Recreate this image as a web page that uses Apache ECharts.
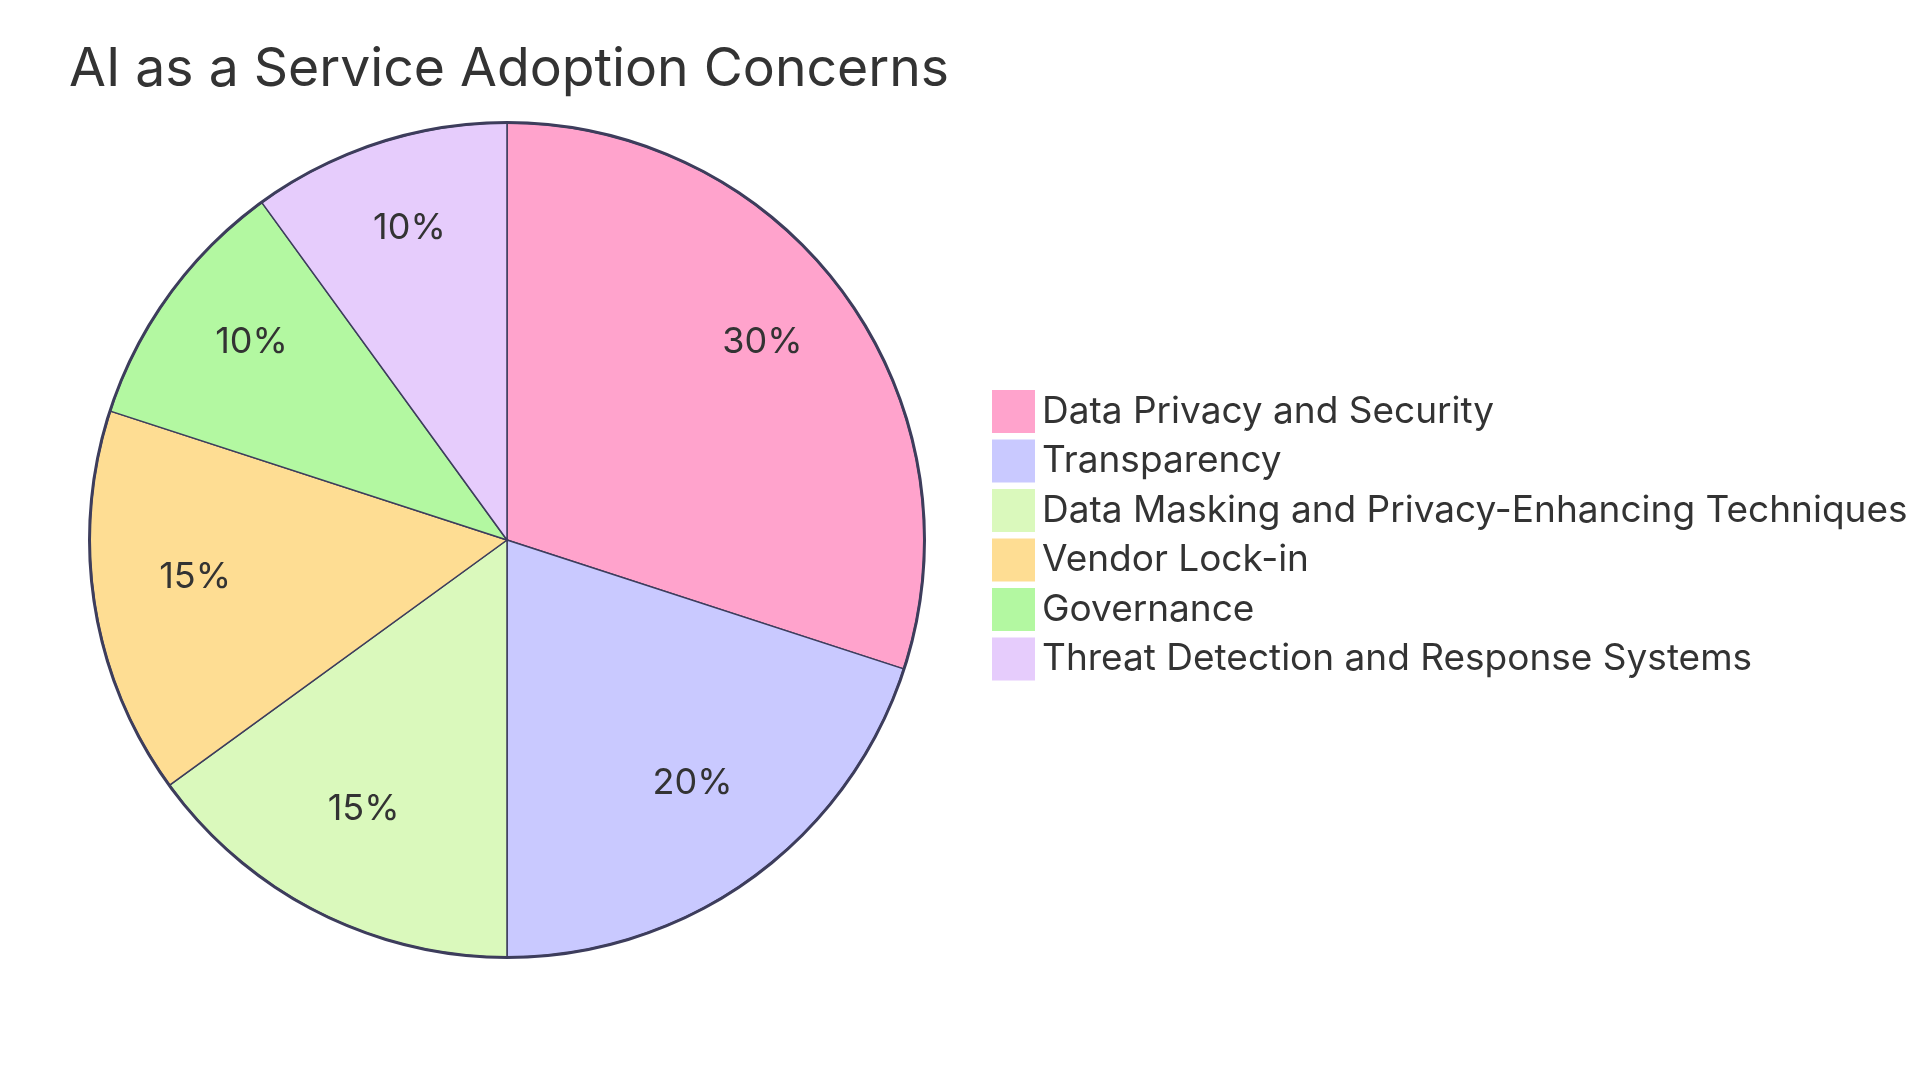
<!DOCTYPE html>
<html><head><meta charset="utf-8">
<script src="https://cdn.jsdelivr.net/npm/echarts@6/dist/echarts.min.js"></script>
<style>html,body{margin:0;padding:0;background:#fff}#c{width:1920px;height:1080px}</style>
</head><body><div id="c"></div>
<script>
const titleText = 'AI as a Service Adoption Concerns';
const categories = ['Data Privacy and Security','Transparency','Data Masking and Privacy-Enhancing Techniques','Vendor Lock-in','Governance','Threat Detection and Response Systems'];
const values = [30, 20, 15, 15, 10, 10];
const colors = ['#FFA3CC','#C9C9FF','#DAF9BC','#FEDD93','#B3F8A1','#E6CCFC'];
const stroke = '#3D3D5C';
const FONT = 'Inter';
const data = categories.map((n,i)=>({name:n, value:values[i], itemStyle:{color:colors[i]}}));
const total = values.reduce((a,b)=>a+b,0);
const chart = echarts.init(document.getElementById('c'), null, {renderer:'canvas'});
chart.setOption({
  backgroundColor:'#fff',
  animation:false,
  title:{text:titleText,left:64,top:38,textStyle:{fontFamily:FONT,fontSize:53.5,fontWeight:'normal',color:'#333'}},
  legend:{orient:'vertical',left:987,top:385,itemWidth:43,itemHeight:43,itemGap:6.5,icon:'rect',
    itemStyle:{borderWidth:0},
    textStyle:{fontFamily:FONT,fontSize:37,color:'#333',padding:[0,0,0,2]},
    data:categories},
  series:[
    {type:'pie',center:[507,540],radius:[0,417],startAngle:90,clockwise:true,silent:true,
     data:data,label:{show:false},labelLine:{show:false},
     itemStyle:{borderColor:stroke,borderWidth:1.5}},
    {type:'pie',center:[507,540],radius:[208.5,417],startAngle:90,clockwise:true,silent:true,
     legendHoverLink:false,
     data:categories.map((n,i)=>({name:n+' ',value:values[i],itemStyle:{color:'rgba(0,0,0,0)'}})),
     itemStyle:{borderWidth:0},
     label:{show:true,position:'inside',fontFamily:FONT,fontSize:36,color:'#333',offset:[0,-12],
       formatter:p=>Math.round(p.value/total*100)+'%'},labelLine:{show:false}},
    {type:'pie',center:[507,540],radius:[416,419],silent:true,legendHoverLink:false,
     data:[{name:'outline',value:total,itemStyle:{color:stroke}}],label:{show:false},labelLine:{show:false},itemStyle:{borderWidth:0}}
  ]
});
</script></body></html>
